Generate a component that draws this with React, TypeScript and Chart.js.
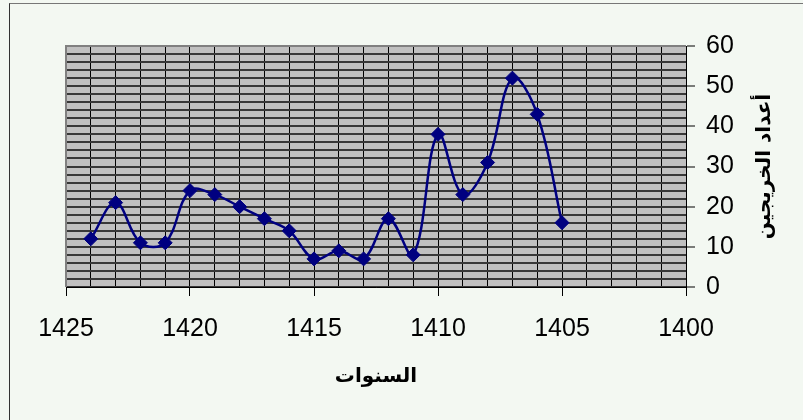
import React, { useEffect, useRef } from 'react';
import { Chart, registerables } from 'chart.js';

Chart.register(...registerables);

const years = [1424, 1423, 1422, 1421, 1420, 1419, 1418, 1417, 1416, 1415, 1414, 1413, 1412, 1411, 1410, 1409, 1408, 1407, 1406, 1405];
const graduates = [12, 21, 11, 11, 24, 23, 20, 17, 14, 7, 9, 7, 17, 8, 38, 23, 31, 52, 43, 16];
const xTitle = 'السنوات';
const yTitle = 'أعداد الخريجين';
const xRange = [1400, 1425];
const yRange = [0, 60];
const xLabelEvery = 5;
const yLabelEvery = 10;

const decorPlugin = {
  id: 'decor',
  beforeDraw(chart: any) {
    const { ctx, chartArea: a } = chart;
    ctx.save();
    ctx.fillStyle = '#c0c0c0';
    ctx.fillRect(a.left, a.top, a.right - a.left, a.bottom - a.top);
    ctx.restore();
  },
  beforeDatasetsDraw(chart: any) {
    const { ctx, chartArea: a } = chart;
    ctx.save();
    ctx.strokeStyle = '#808080';
    ctx.lineWidth = 2;
    ctx.beginPath();
    ctx.moveTo(a.left, a.bottom);
    ctx.lineTo(a.left, a.top);
    ctx.lineTo(a.right, a.top);
    ctx.stroke();
    ctx.restore();
  },
  afterDraw(chart: any) {
    const { ctx, chartArea: a, width, height } = chart;
    ctx.save();
    ctx.fillStyle = '#000';
    ctx.font = 'bold 20px "DejaVu Sans", Arial, sans-serif';
    ctx.textAlign = 'center';
    ctx.textBaseline = 'middle';
    ctx.fillText(xTitle, (a.left + a.right) / 2, height - 43);
    ctx.translate(width - 38, (a.top + a.bottom) / 2);
    ctx.rotate(-Math.PI / 2);
    ctx.fillText(yTitle, 0, 0);
    ctx.restore();
  },
};

export default function App() {
  const ref = useRef<HTMLCanvasElement>(null);

  useEffect(() => {
    if (!ref.current) return;
    const points = years.map((y, i) => ({ x: y, y: graduates[i] }));
    const tickFont = { family: '"Liberation Sans", Arial, sans-serif', size: 25 };
    const chart = new Chart(ref.current, {
      type: 'line',
      data: {
        datasets: [
          {
            data: points,
            borderColor: '#000080',
            backgroundColor: '#000080',
            borderWidth: 2.5,
            tension: 0.38,
            pointStyle: 'rectRot',
            pointRadius: 7,
            pointBorderWidth: 1,
            pointBorderColor: '#000080',
            pointBackgroundColor: '#000080',
            fill: false,
          },
        ],
      },
      options: {
        animation: false,
        responsive: false,
        maintainAspectRatio: false,
        layout: { padding: { left: 66, top: 46, right: 0, bottom: 0 } },
        plugins: { legend: { display: false }, tooltip: { enabled: false } },
        scales: {
          x: {
            type: 'linear',
            position: 'bottom',
            reverse: true,
            min: xRange[0],
            max: xRange[1],
            afterFit: (s: any) => { s.height = 133; },
            ticks: {
              stepSize: 1,
              autoSkip: false,
              maxRotation: 0,
              padding: 18,
              color: '#000',
              font: tickFont,
              callback: (v: any) => (Number(v) % xLabelEvery === 0 ? String(v) : ''),
            },
            grid: {
              color: '#000',
              lineWidth: 1,
              tickLength: 9,
              tickColor: (c: any) => (c.tick && c.tick.value % xLabelEvery === 0 ? '#000' : 'rgba(0,0,0,0)'),
            },
            border: { display: true, color: '#000', width: 1 },
          },
          y: {
            type: 'linear',
            position: 'right',
            min: yRange[0],
            max: yRange[1],
            afterFit: (s: any) => { s.width = 117; },
            ticks: {
              stepSize: 2,
              autoSkip: false,
              padding: 11,
              color: '#000',
              font: tickFont,
              callback: (v: any) => (Number(v) % yLabelEvery === 0 ? String(v) : ''),
            },
            grid: {
              color: '#383838',
              lineWidth: 2,
              tickLength: 9,
              tickWidth: 1,
              tickColor: (c: any) => (c.tick && c.tick.value % yLabelEvery === 0 ? '#000' : 'rgba(0,0,0,0)'),
            },
            border: { display: true, color: '#000', width: 1 },
          },
        },
      },
      plugins: [decorPlugin],
    });
    return () => chart.destroy();
  }, []);

  return (
    <div style={{ position: 'fixed', left: 0, top: 0, width: 803, height: 420, background: '#f3f8f2', overflow: 'hidden' }}>
      <div style={{ position: 'absolute', left: 9, top: 3, width: 900, height: 500, borderLeft: '1px solid #333', borderTop: '1px solid #777' }} />
      <canvas ref={ref} width={803} height={420} style={{ position: 'absolute', left: 0, top: 0, width: 803, height: 420 }} />
    </div>
  );
}
